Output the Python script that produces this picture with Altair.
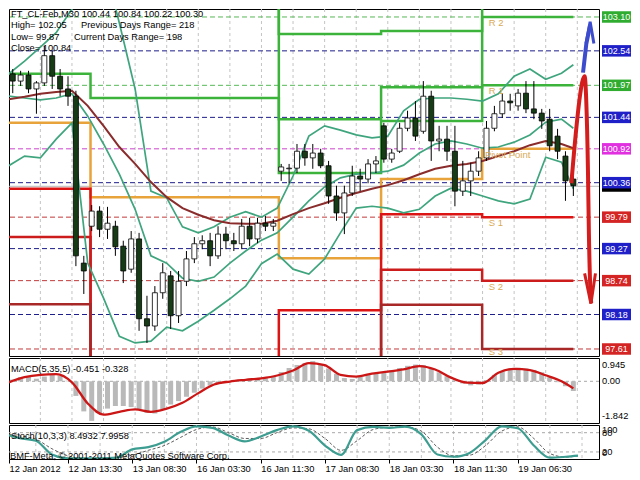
import altair as alt
import pandas as pd

# ---------------------------------------------------------------- data
# candles (two M30 bars per drawn candle), positions in bar index units
CANDLE_BAR = list(range(1, 144, 2))
OPEN = [102.16, 102.04, 102.14, 101.91, 102.01, 102.46, 102.12, 101.91, 101.79, 99.03,
        99.64, 99.89, 99.59, 99.64, 99.31, 98.93, 99.43, 98.11, 97.99, 98.54,
        98.82, 98.16, 98.73, 99.10, 99.35, 99.40, 99.15, 99.51, 99.40, 99.35,
        99.64, 99.43, 99.69, 99.64, 100.55, 100.59, 100.60, 100.88, 100.77, 100.85,
        100.64, 100.14, 99.86, 100.19, 100.47, 100.42, 100.67, 101.30, 100.75, 100.88,
        101.26, 101.43, 101.21, 101.79, 101.05, 101.08, 100.88, 100.22, 100.39, 100.55,
        100.77, 101.26, 101.50, 101.71, 101.63, 101.84, 101.58, 101.51, 101.41, 101.13,
        100.80, 100.42]
HIGH = [102.24, 102.21, 102.21, 102.04, 102.62, 102.54, 102.24, 102.12, 101.88, 99.15,
        99.99, 99.97, 99.96, 99.73, 99.40, 99.56, 99.53, 98.49, 98.65, 99.03,
        98.90, 98.90, 99.23, 99.46, 99.49, 99.53, 99.64, 99.63, 99.53, 99.76,
        99.78, 99.78, 99.81, 99.76, 100.67, 100.67, 101.00, 101.00, 101.00, 100.92,
        100.72, 100.31, 100.31, 100.64, 100.59, 100.75, 100.80, 101.35, 100.92, 101.35,
        101.55, 101.71, 102.04, 101.88, 101.30, 101.30, 101.30, 100.72, 100.69, 100.88,
        101.38, 101.63, 101.84, 101.83, 101.91, 102.04, 102.04, 101.58, 101.58, 101.25,
        100.88, 100.88]
LOW = [101.84, 101.96, 101.84, 101.50, 101.96, 101.91, 101.79, 101.63, 98.98, 98.52,
       99.56, 99.46, 99.43, 99.15, 98.70, 98.87, 97.91, 97.71, 97.91, 98.44,
       97.94, 98.04, 98.65, 99.03, 99.26, 98.98, 99.10, 99.26, 99.23, 99.26,
       99.31, 99.36, 99.56, 99.56, 100.39, 100.35, 100.52, 100.64, 100.59, 100.60,
       100.01, 99.73, 99.51, 100.14, 100.22, 100.35, 100.52, 100.69, 100.69, 100.85,
       101.21, 101.05, 101.17, 100.72, 100.88, 100.72, 99.97, 100.14, 100.14, 100.47,
       100.72, 101.21, 101.43, 101.55, 101.55, 101.51, 101.41, 101.25, 100.88, 100.75,
       100.06, 100.14]
CLOSE = [102.04, 102.14, 101.91, 102.01, 102.46, 102.12, 101.91, 101.79, 99.15, 98.90,
         99.89, 99.59, 99.69, 99.30, 98.90, 99.43, 98.11, 97.99, 98.54, 98.87,
         98.16, 98.73, 99.10, 99.35, 99.40, 99.15, 99.51, 99.40, 99.35, 99.64,
         99.43, 99.69, 99.64, 99.69, 100.62, 100.60, 100.88, 100.77, 100.85, 100.64,
         100.14, 99.86, 100.19, 100.47, 100.42, 100.67, 100.72, 100.75, 100.85, 101.26,
         101.43, 101.13, 101.79, 101.05, 101.08, 100.88, 100.22, 100.39, 100.55, 100.77,
         101.26, 101.50, 101.71, 101.68, 101.84, 101.58, 101.51, 101.38, 100.97, 100.88,
         100.39, 100.31]
MACD_HIST = [0.08, 0.19, 0.20, 0.12, 0.22, 0.30, 0.25, 0.03, -0.68, -1.40,
             -1.84, -1.48, -1.27, -1.15, -1.15, -1.20, -1.30, -1.47, -1.50, -1.32,
             -1.08, -0.92, -0.72, -0.53, -0.34, -0.20, -0.11, -0.05, 0.00, 0.05,
             0.08, 0.11, 0.14, 0.21, 0.43, 0.62, 0.76, 0.85, 0.94, 0.78,
             0.60, 0.35, 0.15, 0.11, 0.20, 0.30, 0.37, 0.42, 0.50, 0.62,
             0.72, 0.78, 0.76, 0.62, 0.42, 0.24, 0.05, -0.10, -0.19, -0.15,
             0.06, 0.30, 0.48, 0.59, 0.63, 0.60, 0.53, 0.42, 0.19, -0.04,
             -0.23, -0.45]

# indicator lines sampled every 4 bars
LINE_BAR = list(range(0, 144, 4)) + [143]
BB_UPPER = [102.16, 102.37, 102.60, 102.84, 103.23, 104.03, 104.03, 103.00, 101.91, 100.22,
            100.11, 99.63, 99.53, 99.63, 99.79, 99.88, 99.79, 99.94, 100.47, 101.13,
            101.30, 101.23, 101.15, 101.10, 101.13, 101.55, 101.74, 101.76, 101.76, 101.74,
            101.71, 101.83, 102.12, 102.24, 102.07, 102.17, 102.31]
BB_MID = [101.79, 101.76, 101.73, 101.76, 101.83, 101.46, 101.00, 100.50, 99.92, 99.15,
          99.03, 98.78, 98.73, 98.80, 99.03, 99.23, 99.41, 99.53, 99.79, 100.06,
          100.29, 100.44, 100.50, 100.52, 100.55, 100.65, 100.85, 101.00, 101.05, 101.00,
          100.93, 100.95, 101.03, 101.15, 101.36, 101.41, 101.26]
BB_LOWER = [100.64, 100.80, 100.77, 101.08, 101.35, 99.03, 98.45, 97.82, 97.71, 97.74,
            97.97, 97.91, 98.07, 98.25, 98.44, 98.65, 99.02, 99.18, 98.93, 98.85,
            99.10, 99.53, 99.94, 99.97, 99.94, 99.86, 99.92, 100.14, 100.27, 100.22,
            100.14, 100.06, 100.01, 100.09, 100.78, 100.70, 100.26]
MA_SLOW = [101.74, 101.78, 101.83, 101.86, 101.88, 101.63, 101.30, 100.95, 100.67, 100.37,
           100.12, 99.94, 99.83, 99.74, 99.69, 99.68, 99.68, 99.73, 99.84, 99.94,
           100.02, 100.11, 100.19, 100.26, 100.32, 100.40, 100.50, 100.59, 100.64, 100.67,
           100.72, 100.80, 100.88, 100.98, 101.05, 101.00, 100.93]
MACD_SIGNAL = [-0.05, 0.19, 0.30, 0.33, -0.05, -1.03, -1.55, -1.42, -1.31, -1.42,
               -1.27, -1.00, -0.55, -0.15, -0.01, 0.07, 0.14, 0.27, 0.50, 0.85,
               0.75, 0.30, 0.22, 0.36, 0.45, 0.55, 0.71, 0.55, 0.17, -0.06,
               -0.08, 0.40, 0.58, 0.52, 0.28, 0.00, -0.33]
STOCH_MAIN = [76, 63, 55, 12, 0, 0, 0, 2, 28, 35,
              52, 82, 100, 95, 71, 53, 68, 88, 100, 86,
              40, 11, 88, 98, 95, 99, 75, 12, 5, 17,
              57, 100, 94, 40, 2, 5, 8.5]
STOCH_SIGNAL = [78, 70, 60, 30, 8, 0, 0, 1, 10, 25,
                40, 65, 90, 98, 80, 62, 62, 80, 95, 92,
                62, 25, 55, 90, 97, 98, 85, 35, 8, 10,
                40, 85, 98, 62, 15, 4, 8]

# daily pivot levels (day starts in bar units)
DAY_START = [0, 20.7, 68.4, 94.3, 119.9]
DAY_END = 143
PIVOTS = {
    "R3": [104.60, 104.80, 102.82, 102.87, 104.30],
    "R2": [103.70, 103.80, 101.41, 101.94, 103.10],
    "R1": [102.16, 101.76, 100.52, 101.38, 101.97],
    "PP": [101.35, 100.12, 99.11, 100.42, 100.92],
    "S1": [100.26, 97.30, 98.25, 99.84, 99.79],
    "S2": [99.46, 96.50, 97.20, 98.92, 98.74],
    "S3": [98.35, 95.50, 96.40, 98.34, 97.61],
}
PIVOT_TEXT = ["R 2", "R 1", "Pivot Point", "S 1", "S 2", "S 3"]
PIVOT_TEXT_PRICE = [103.00, 101.88, 100.82, 99.69, 98.63, 97.56]
PIVOT_TEXT_BAR = [121.6, 121.6, 120.6, 121.6, 121.6, 121.6]

# horizontal level lines and their price tags
LEVEL_PRICE = [103.10, 102.54, 101.97, 101.44, 100.92, 100.36, 99.79, 99.27, 98.74, 98.18, 97.61]
LEVEL_KIND = ["res", "mid", "res", "mid", "piv", "mid", "sup", "mid", "sup", "mid", "sup"]
BID = 100.30

# projection arrows
RED_BAR = [142.5, 145.45, 145.85, 146.27, 146.69, 146.94, 147.26, 147.51]
RED_PRICE = [100.35, 102.07, 102.12, 101.71, 100.60, 99.51, 98.68, 98.37]
RED_HEAD_BAR = [145.85, 147.45, 148.6]
RED_HEAD_PRICE = [98.86, 98.36, 98.86]
BLUE_BAR = [145.45, 146.27, 147.2]
BLUE_PRICE = [102.18, 102.65, 102.95]
BLUE_HEAD_BAR = [146.2, 147.25, 148.2]
BLUE_HEAD_PRICE = [102.66, 103.02, 102.66]

# time axis
TICK_BAR = [0, 16, 32, 48, 64, 80, 96, 112, 128]
TICK_LABELS = ["12 Jan 2012", "12 Jan 13:30", "13 Jan 08:30", "16 Jan 03:30", "16 Jan 11:30",
               "17 Jan 08:30", "18 Jan 03:30", "18 Jan 11:30", "19 Jan 06:30"]
GRID_BAR = list(range(8, 149, 8))

MACD_TICKS = [0.945, 0.0, -1.842]
MACD_TICK_TEXT = ["0.945", "0.00", "-1.842"]

# ---------------------------------------------------------------- styles / layout
FONT = "Liberation Sans"
FS = 9.3
W = 590
X0, X1 = 1.32, 148.23                       # visible bar range of the panels
X_SCALE = alt.Scale(domain=[X0, X1], nice=False, zero=False)
P_SCALE = alt.Scale(domain=[97.494, 103.232], nice=False, zero=False)
M_SCALE = alt.Scale(domain=[-1.94, 1.084], nice=False, zero=False)
S_SCALE = alt.Scale(domain=[-2, 104], nice=False, zero=False)
TAG_X, TAG_X2 = 593, 622                    # price tags right of the panel

PIVOT_COLORS = {"R3": "#3cb43c", "R2": "#3cb43c", "R1": "#3cb43c", "PP": "#e8a43a",
                "S1": "#dc1414", "S2": "#cc1c1c", "S3": "#a82828"}
LINE_COLORS = {"res": "#58b858", "mid": "#1e1e8c", "piv": "#cc44cc", "sup": "#c23a3a"}
BOX_COLORS = {"res": "#30ac30", "mid": "#2020c8", "piv": "#e030e0", "sup": "#d42424"}
BAND_COLOR = "#3fa57e"

tick_values = [max(v, X0) for v in TICK_BAR]
label_expr = "[" + ",".join(f"'{t}'" for t in TICK_LABELS) + "][round(datum.value / 16)]"
TIME_AXIS = alt.Axis(values=tick_values, labelExpr=label_expr, orient="bottom", labelAlign="left",
                     labelFont=FONT, labelFontSize=FS, labelColor="black", tickColor="black",
                     tickSize=4, domain=False, grid=False, labelPadding=1, labelOverlap=False,
                     labelFlush=False, labelBound=False, title=None)


def X(field="bar", axis=None):
    return alt.X(f"{field}:Q", scale=X_SCALE, axis=axis)


def Y(field, scale):
    return alt.Y(f"{field}:Q", scale=scale, axis=None)


def label(text, px, py, **kw):
    args = dict(align="left", baseline="middle", font=FONT, fontSize=FS, color="black")
    args.update(kw)
    return alt.Chart(pd.DataFrame({"t": [text]})).mark_text(**args).encode(
        x=alt.value(px), y=alt.value(py), text="t:N")


# ---------------------------------------------------------------- frames
candles = pd.DataFrame({"bar": CANDLE_BAR, "open": OPEN, "high": HIGH, "low": LOW,
                        "close": CLOSE, "hist": MACD_HIST})
candles["fill"] = ["#ffffff" if c >= o else "#163c16" for o, c in zip(OPEN, CLOSE)]

lines = pd.DataFrame({"bar": LINE_BAR, "upper": BB_UPPER, "mid": BB_MID, "lower": BB_LOWER,
                      "ma": MA_SLOW, "signal": MACD_SIGNAL, "k": STOCH_MAIN, "d": STOCH_SIGNAL})
bands = lines.melt(id_vars="bar", value_vars=["upper", "mid", "lower"],
                   var_name="band", value_name="price")

piv_rows = []
for name, vals in PIVOTS.items():
    for b, v in zip(DAY_START + [DAY_END], vals + [vals[-1]]):
        piv_rows.append({"bar": b, "price": v, "level": name, "col": PIVOT_COLORS[name]})
piv = pd.DataFrame(piv_rows)

levels = pd.DataFrame({"price": LEVEL_PRICE, "kind": LEVEL_KIND,
                       "label": [f"{p:.2f}" for p in LEVEL_PRICE]})
levels["line"] = levels["kind"].map(LINE_COLORS)
levels["box"] = levels["kind"].map(BOX_COLORS)

grid = pd.DataFrame({"bar": GRID_BAR})

# ---------------------------------------------------------------- main panel
grid_rules = alt.Chart(grid).mark_rule(color="#c4c4c4", strokeDash=[3, 3], strokeWidth=1).encode(x=X())

level_rules = alt.Chart(levels).mark_rule(strokeDash=[5, 3], strokeWidth=1).encode(
    y=Y("price", P_SCALE), color=alt.Color("line:N", scale=None))

bid_rule = alt.Chart(pd.DataFrame({"price": [BID]})).mark_rule(color="#b8b8b8", strokeWidth=1).encode(
    y=Y("price", P_SCALE))

pivot_lines = alt.Chart(piv).mark_line(interpolate="step-after", strokeWidth=2.5, clip=True).encode(
    x=X(), y=Y("price", P_SCALE), color=alt.Color("col:N", scale=None), detail="level:N")

band_lines = alt.Chart(bands).mark_line(color=BAND_COLOR, strokeWidth=1.7, clip=True).encode(
    x=X(), y=Y("price", P_SCALE), detail="band:N")

ma_line = alt.Chart(lines).mark_line(color="#8a2c2c", strokeWidth=2, clip=True).encode(
    x=X(), y=Y("ma", P_SCALE))

wicks = alt.Chart(candles).mark_rule(color="black", strokeWidth=1, clip=True).encode(
    x=X(), y=Y("low", P_SCALE), y2="high:Q")
bodies = alt.Chart(candles).mark_bar(size=5, stroke="black", strokeWidth=0.8, clip=True).encode(
    x=X(), y=Y("open", P_SCALE), y2="close:Q", fill=alt.Fill("fill:N", scale=None))

red_path = alt.Chart(pd.DataFrame({"bar": RED_BAR, "price": RED_PRICE})).mark_line(
    color="#d41e1e", strokeWidth=4, interpolate="monotone").encode(x=X(), y=Y("price", P_SCALE))
red_head = alt.Chart(pd.DataFrame({"bar": RED_HEAD_BAR, "price": RED_HEAD_PRICE})).mark_line(
    color="#d41e1e", strokeWidth=3).encode(x=X(), y=Y("price", P_SCALE))
blue_path = alt.Chart(pd.DataFrame({"bar": BLUE_BAR, "price": BLUE_PRICE})).mark_line(
    color="#3c4ccc", strokeWidth=4).encode(x=X(), y=Y("price", P_SCALE))
blue_head = alt.Chart(pd.DataFrame({"bar": BLUE_HEAD_BAR, "price": BLUE_HEAD_PRICE})).mark_line(
    color="#3c4ccc", strokeWidth=3).encode(x=X(), y=Y("price", P_SCALE))

pivot_text = alt.Chart(pd.DataFrame({"bar": PIVOT_TEXT_BAR, "price": PIVOT_TEXT_PRICE,
                                     "t": PIVOT_TEXT})).mark_text(
    align="left", baseline="middle", font=FONT, fontSize=9.5, color="#d9aa55").encode(
    x=X(), y=Y("price", P_SCALE), text="t:N")

bid_box = alt.Chart(pd.DataFrame({"price": [BID]})).transform_calculate(
    lo="datum.price - 0.09", hi="datum.price + 0.09").mark_rect(color="black").encode(
    x=alt.value(TAG_X), x2=alt.value(TAG_X2), y=Y("lo", P_SCALE), y2="hi:Q")
boxes = alt.Chart(levels).transform_calculate(
    lo="datum.price - 0.095", hi="datum.price + 0.095").mark_rect().encode(
    x=alt.value(TAG_X), x2=alt.value(TAG_X2), y=Y("lo", P_SCALE), y2="hi:Q",
    color=alt.Color("box:N", scale=None))
box_text = alt.Chart(levels).mark_text(align="center", baseline="middle", font=FONT, fontSize=9,
                                       color="white").encode(
    x=alt.value((TAG_X + TAG_X2) / 2), y=Y("price", P_SCALE), text="label:N")

header = [
    label("FT_CL-Feb,M30  100.44 100.84 100.22 100.30", 2, 5),
    label("High= 102.05", 2, 16),
    label("Previous Days Range= 218", 72, 16),
    label("Low= 99.87", 2, 27.5),
    label("Current Days Range= 198", 65, 27.5),
    label("Close= 100.84", 2, 39),
]

main = alt.layer(
    grid_rules, level_rules, bid_rule, pivot_lines, band_lines, ma_line,
    wicks, bodies, red_path, red_head, blue_path, blue_head, pivot_text,
    bid_box, boxes, box_text, *header
).properties(width=W, height=347)

# ---------------------------------------------------------------- MACD panel
macd_grid = alt.Chart(grid).mark_rule(color="#c4c4c4", strokeDash=[3, 3]).encode(x=X())
macd_zero = alt.Chart(pd.DataFrame({"v": [0.0]})).mark_rule(color="#a8a8a8", strokeDash=[3, 3]).encode(
    y=Y("v", M_SCALE))
macd_hist = alt.Chart(candles).mark_bar(size=5, color="#b9b9b9", clip=True).encode(
    x=X(), y=Y("hist", M_SCALE), y2=alt.datum(0))
macd_sig = alt.Chart(lines).mark_line(color="#cc1616", strokeWidth=2.3, interpolate="monotone",
                                      clip=True).encode(x=X(), y=Y("signal", M_SCALE))
macd_ticks = []
for v, t, bl in zip(MACD_TICKS, MACD_TICK_TEXT, ["top", "middle", "bottom"]):
    macd_ticks.append(alt.Chart(pd.DataFrame({"v": [v], "t": [t]})).mark_text(
        align="left", baseline=bl, font=FONT, fontSize=FS, color="black").encode(
        x=alt.value(TAG_X), y=Y("v", M_SCALE), text="t:N"))

macd = alt.layer(
    macd_grid, macd_zero, macd_hist, macd_sig, *macd_ticks,
    label("MACD(5,35,5) -0.451 -0.328", 2, 11),
).properties(width=W, height=65)

# ---------------------------------------------------------------- Stochastic panel
st_grid = alt.Chart(grid).mark_rule(color="#c4c4c4", strokeDash=[3, 3]).encode(x=X(axis=TIME_AXIS))
st_levels = alt.Chart(pd.DataFrame({"v": [80, 20]})).mark_rule(color="#a8a8a8", strokeDash=[3, 3]).encode(
    y=Y("v", S_SCALE))
st_d = alt.Chart(lines).mark_line(color="#333333", strokeWidth=0.8, strokeDash=[3, 2],
                                  interpolate="monotone", clip=True).encode(
    x=X(axis=TIME_AXIS), y=Y("d", S_SCALE))
st_k = alt.Chart(lines).mark_line(color="#3d9d90", strokeWidth=2.2, interpolate="monotone",
                                  clip=True).encode(x=X(axis=TIME_AXIS), y=Y("k", S_SCALE))
st_ticks = []
for v, t, bl in [(100, "100", "top"), (80, "80", "middle"), (20, "20", "middle"), (0, "0", "bottom")]:
    st_ticks.append(alt.Chart(pd.DataFrame({"v": [v], "t": [t]})).mark_text(
        align="left", baseline=bl, font=FONT, fontSize=FS, color="black").encode(
        x=alt.value(TAG_X), y=Y("v", S_SCALE), text="t:N"))

stoch = alt.layer(
    st_grid, st_levels, st_d, st_k, *st_ticks,
    label("Stoch(10,3,3) 8.4932 7.9958", 2, 11),
    label("BMF-Meta, \u00a9 2001-2011 MetaQuotes Software Corp.", 1, 30.5),
).properties(width=W, height=34)

chart = alt.vconcat(main, macd, stoch, spacing=2, bounds="flush").properties(
    padding=0
).configure_view(stroke="black", strokeWidth=1)

chart.save("out.html", embed_options={"renderer": "svg", "actions": False})
